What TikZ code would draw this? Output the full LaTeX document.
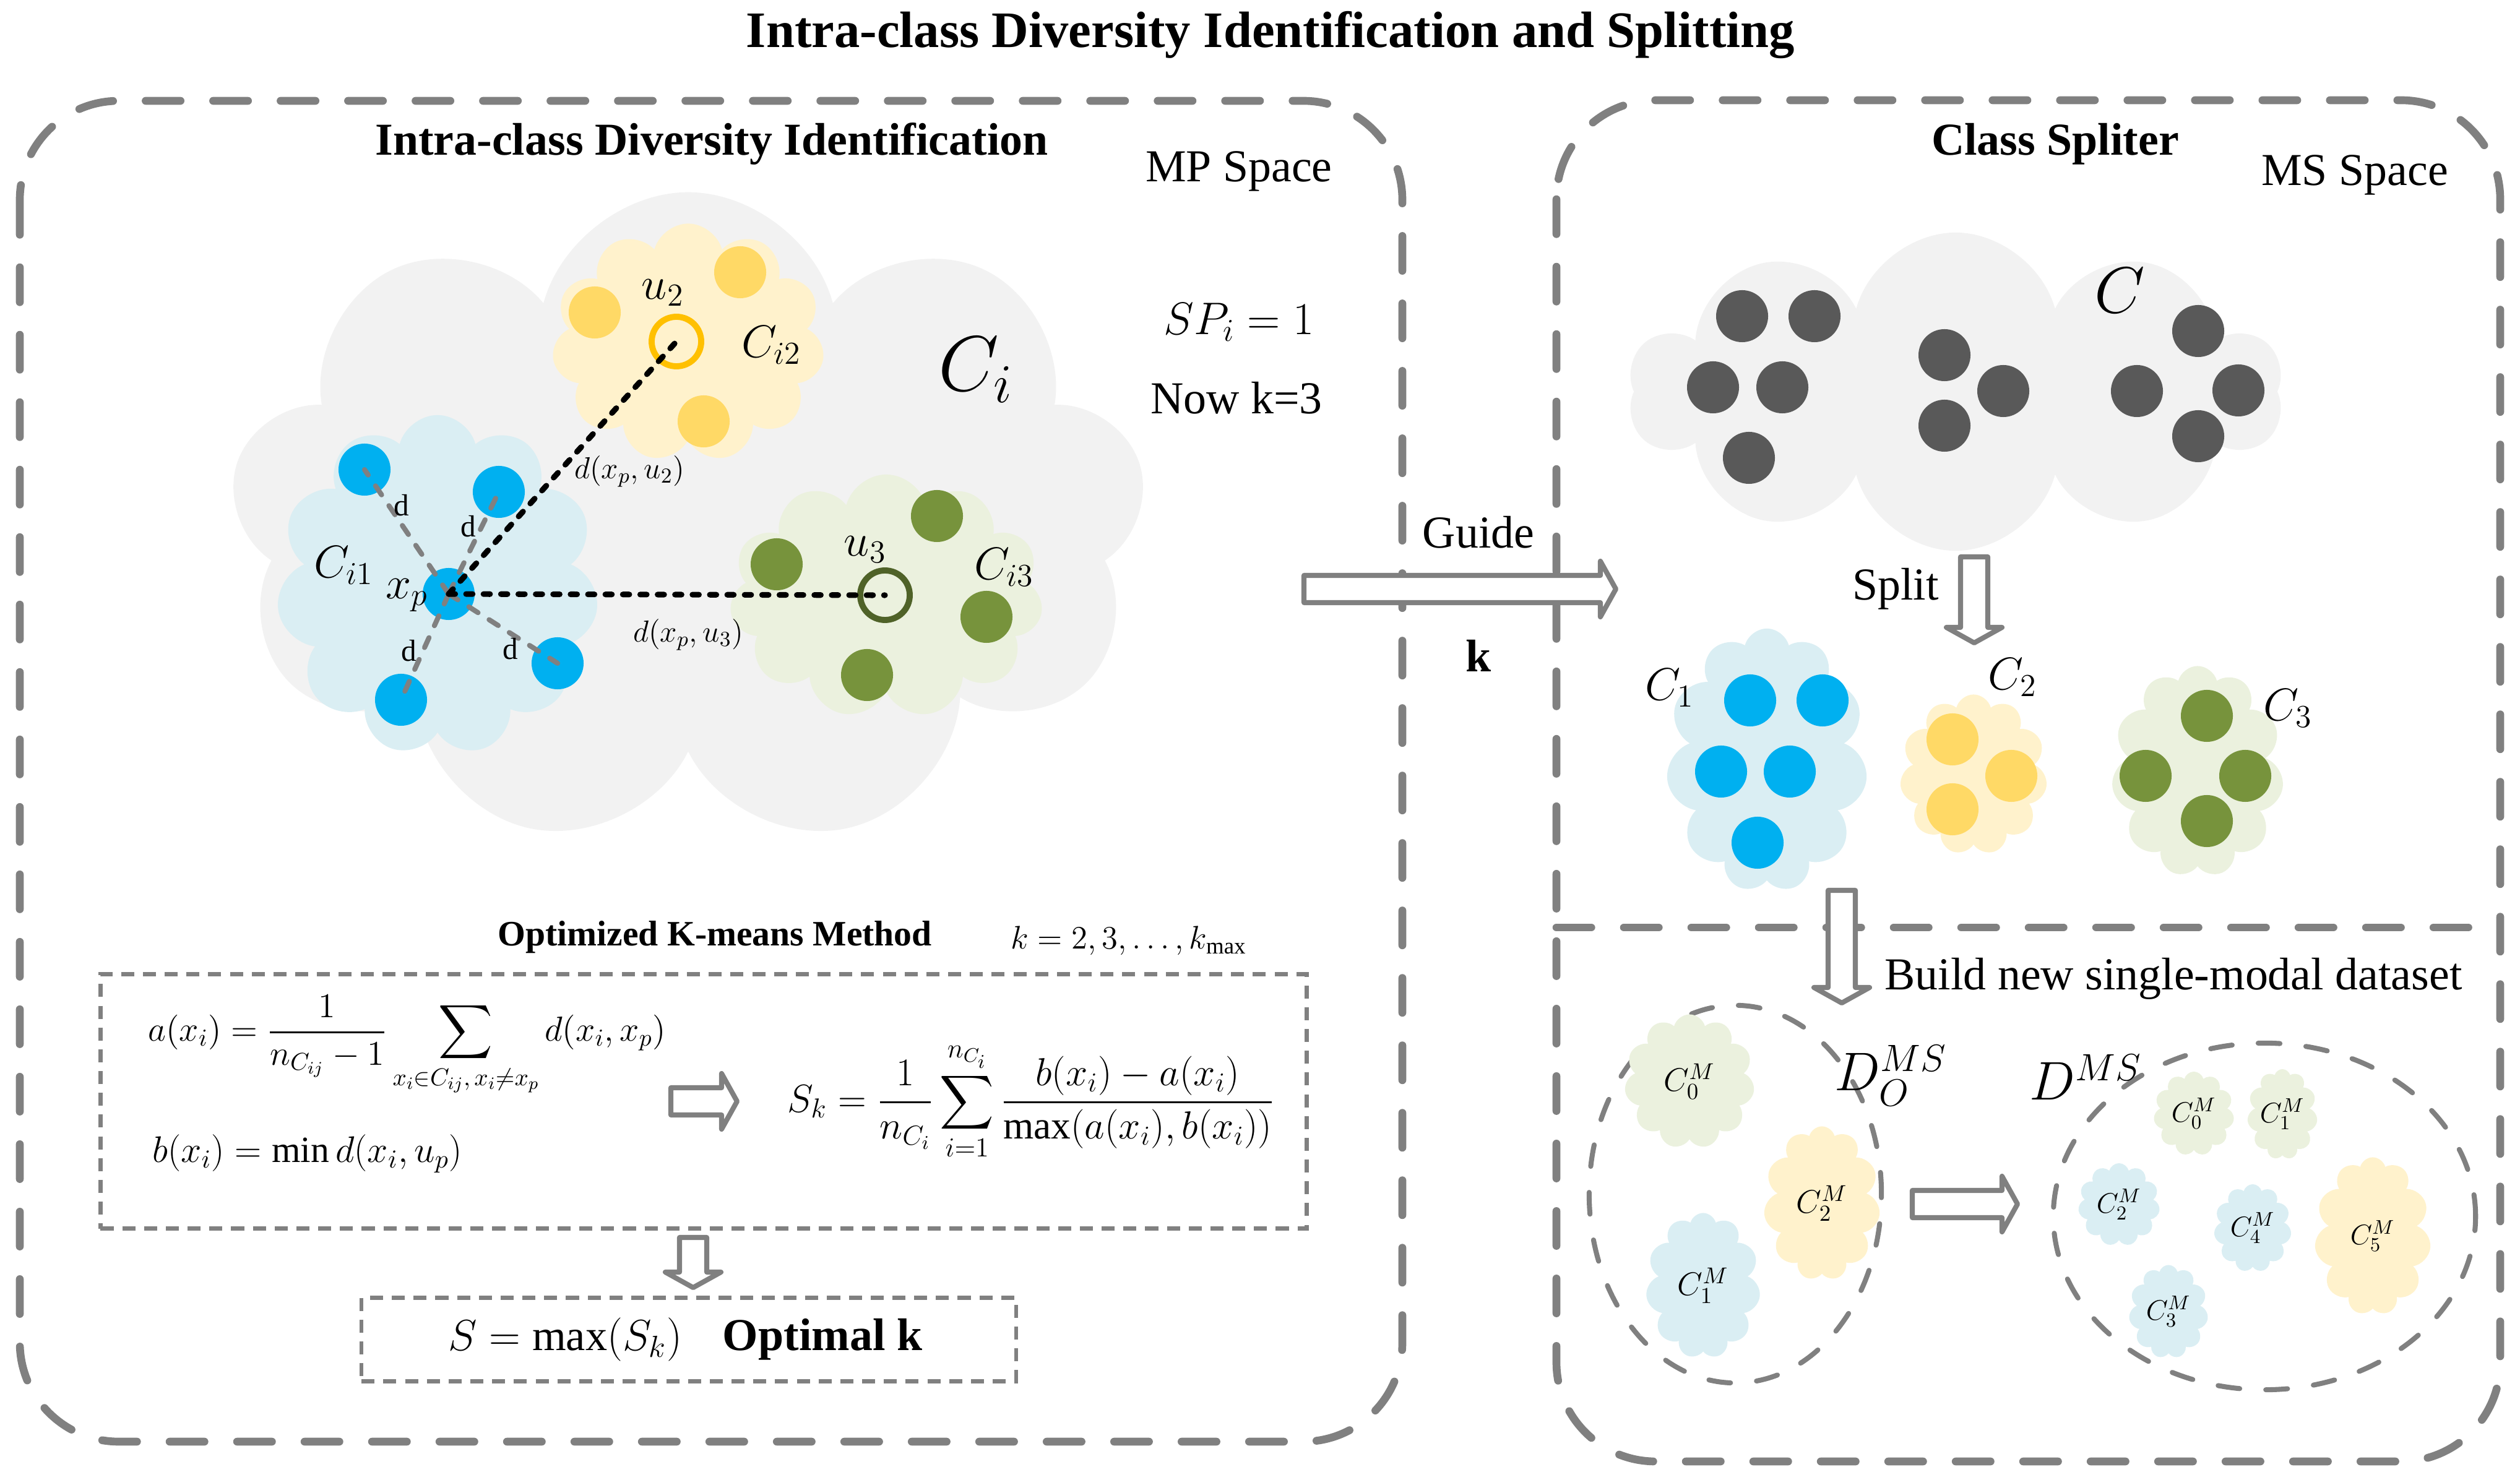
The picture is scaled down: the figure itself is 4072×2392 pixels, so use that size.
\RequirePackage{fix-cm}
\documentclass[tikz,border=0pt]{standalone}
\usepackage{amsmath}
\usepackage{fontspec}
\setmainfont{Liberation Serif}
\usepackage{tikz}
\usetikzlibrary{shapes.symbols,shapes.geometric,positioning}

\definecolor{framegray}{HTML}{808080}
\definecolor{cloudgray}{HTML}{F2F2F2}
\definecolor{paleblue}{HTML}{DAEEF3}
\definecolor{dotblue}{HTML}{00B0F0}
\definecolor{paleyellow}{HTML}{FFF2CC}
\definecolor{dotyellow}{HTML}{FFD966}
\definecolor{ringorange}{HTML}{FFC000}
\definecolor{palegreen}{HTML}{EBF1DE}
\definecolor{dotgreen}{HTML}{77933C}
\definecolor{ringgreen}{HTML}{4F6228}
\definecolor{dotdark}{HTML}{595959}

% hollow block arrows: from x #1 to x #3 at height #2
\newcommand{\rightblock}[3]{%
	\draw[hollow] (#1,#2-22) -- (#3-25,#2-22) -- (#3-25,#2-45) -- (#3,#2)
		-- (#3-25,#2+45) -- (#3-25,#2+22) -- (#1,#2+22) -- cycle;}
% from y #2 down to y #3 at x #1
\newcommand{\downblock}[3]{%
	\draw[hollow] (#1-22,#2) -- (#1-22,#3-25) -- (#1-45,#3-25) -- (#1,#3)
		-- (#1+45,#3-25) -- (#1+22,#3-25) -- (#1+22,#2) -- cycle;}

\begin{document}
\begin{tikzpicture} [x = 0.01cm, y = -0.01cm,
	frame/.style = {draw=framegray, line width=3.6pt, line cap=round,
		dash pattern=on 16pt off 15pt, rounded corners=1.6cm},
	box/.style = {draw=framegray, line width=1.8pt, dash pattern=on 6pt off 4pt},
	oval/.style = {ellipse, draw=framegray, line width=2.3pt, line cap=round,
		dash pattern=on 10pt off 12pt},
	puff/.style = {cloud, cloud puffs=#1, cloud ignores aspect,
		draw=none, inner sep=0pt},
	puff/.default = 11,
	dot/.style = {circle, minimum size=0.84cm, inner sep=0pt},
	ring/.style = {circle, line width=2.8pt, minimum size=0.8cm, inner sep=0pt},
	dist/.style = {draw=framegray, line width=2.3pt, line cap=round,
		dash pattern=on 5pt off 6pt},
	far/.style = {draw=black, line width=2.6pt, line cap=round,
		dash pattern=on 3pt off 5pt},
	hollow/.style = {draw=framegray, line width=2.3pt, line join=round, fill=white},
	txt/.style = {font=\fontsize{21}{25}\selectfont, inner sep=0pt},
	head/.style = {font=\fontsize{21}{25}\selectfont\bfseries, inner sep=0pt},
	small/.style = {font=\fontsize{14}{17}\selectfont, inner sep=0pt}]

	\useasboundingbox (0,0) rectangle (4072,2392);

	\node (title) [font=\fontsize{23.5}{28}\selectfont\bfseries] at (2053,57)
		{Intra-class Diversity Identification and Splitting};

	% frames
	\draw[frame] (32,163) rectangle (2266,2330);
	\draw[frame] (2515,162) rectangle (4040,2362);
	\draw[frame, rounded corners=0pt] (2515,1499) -- (4040,1499);

	%% left panel
	\node (idhead) [head] at (1150,232) {Intra-class Diversity Identification};
	\node (mp) [txt] at (2002,277) {MP Space};

	\node (ci) [puff=9, fill=cloudgray, minimum width=14.8cm, minimum height=10.6cm]
		at (1112,841) {};
	\node (ci1) [puff, fill=paleblue, minimum width=5.2cm, minimum height=5.5cm]
		at (707,946) {};
	\node (ci2) [puff, fill=paleyellow, minimum width=4.4cm, minimum height=3.85cm]
		at (1112,554) {};
	\node (ci3) [puff, fill=palegreen, minimum width=5.06cm, minimum height=3.94cm]
		at (1432,964) {};

	\foreach \n/\x/\y in {1/589/759, 2/806/795, 3/648/1131, 4/901/1072}
		\node (b\n) [dot, fill=dotblue] at (\x,\y) {};
	\node (xp) [dot, fill=dotblue] at (725,960) {};
	\foreach \n/\x/\y in {1/961/505, 2/1196/440, 3/1137/681}
		\node (y\n) [dot, fill=dotyellow] at (\x,\y) {};
	\foreach \n/\x/\y in {1/1255/912, 2/1514/834, 3/1594/997, 4/1401/1091}
		\node (g\n) [dot, fill=dotgreen] at (\x,\y) {};
	\node (u2) [ring, draw=ringorange] at (1093,552) {};
	\node (u3) [ring, draw=ringgreen] at (1430,962) {};

	\foreach \n in {1,...,4}
		\draw[dist] (xp.center) -- (b\n.center);
	\draw[far] (xp.center) -- (u2.center);
	\draw[far] (xp.center) -- (u3.center);

	\node (d1) [small] at (649,817) {d};
	\node (d2) [small] at (757,851) {d};
	\node (d3) [small] at (661,1052) {d};
	\node (d4) [small] at (825,1049) {d};

	\node (lci) [font=\fontsize{36}{42}\selectfont] at (1577,598) {$C_i$};
	\node (lci1) [txt] at (556,914) {$C_{i1}$};
	\node (lxp) [txt] at (658,962) {$x_p$};
	\node (lu2) [txt] at (1071,473) {$u_2$};
	\node (lci2) [txt] at (1247,558) {$C_{i2}$};
	\node (lu3) [txt] at (1398,888) {$u_3$};
	\node (lci3) [txt] at (1623,917) {$C_{i3}$};
	\node (du2) [small] at (1017,762) {$d(x_p,u_2)$};
	\node (du3) [small] at (1112,1026) {$d(x_p,u_3)$};

	\node (sp) [font=\fontsize{21}{25}\selectfont] at (2002,521) {$SP_i=1$};
	\node (nowk) [txt] at (1998,643) {Now k=3};

	% k-means part
	\node (kmeans) [font=\fontsize{16.4}{20}\selectfont\bfseries] at (1155,1515)
		{Optimized K-means Method};
	\node (krange) [font=\fontsize{15}{18}\selectfont] at (1824,1520)
		{$k=2,3,\ldots,k_{\max}$};
	\node (fbox) [box, minimum width=19.48cm, minimum height=4.11cm] at (1137,1780) {};
	\node (aeq) [font=\fontsize{16}{19}\selectfont, anchor=west] at (227,1690)
		{$\displaystyle a(x_i)=\frac{1}{n_{C_{ij}}-1}\sum_{x_i\in C_{ij},\,x_i\neq x_p} d(x_i,x_p)$};
	\node (beq) [font=\fontsize{17}{20}\selectfont, anchor=west] at (234,1865)
		{$b(x_i)=\min d(x_i,u_p)$};
	\node (skeq) [font=\fontsize{18}{21}\selectfont] at (1666,1780)
		{$\displaystyle S_k=\frac{1}{n_{C_i}}\sum_{i=1}^{n_{C_i}}\frac{b(x_i)-a(x_i)}{\max(a(x_i),b(x_i))}$};
	\rightblock{1084}{1780}{1191}
	\downblock{1120}{2000}{2081}
	\node (rbox) [box, minimum width=10.57cm, minimum height=1.35cm] at (1113,2165) {};
	\node (seq) [font=\fontsize{20}{24}\selectfont] at (913,2165) {$S=\max(S_k)$};
	\node (optk) [head] at (1329,2165) {Optimal k};

	%% guide arrow
	\rightblock{2107}{952}{2611}
	\node (guide) [txt] at (2389,860) {Guide};
	\node (kk) [head] at (2389,1060) {k};

	%% right panel
	\node (cshead) [head] at (3321,233) {Class Spliter};
	\node (ms) [txt] at (3805,283) {MS Space};
	\node (c) [puff=10, fill=cloudgray, minimum width=10.55cm, minimum height=5.14cm]
		at (3160,633) {};
	\foreach \n/\x/\y in {1/2815/511, 2/2932/511, 3/2768/626, 4/2880/626, 5/2826/740,
		6/3142/574, 7/3237/632, 8/3142/688, 9/3552/535, 10/3453/632, 11/3617/631, 12/3552/705}
		\node (k\n) [dot, fill=dotdark] at (\x,\y) {};
	\node (lc) [font=\fontsize{30}{34}\selectfont] at (3425,469) {$C$};

	\downblock{3190}{900}{1039}
	\node (split) [txt] at (3063,952) {Split};

	\node (c1) [puff, fill=paleblue, minimum width=3.25cm, minimum height=4.26cm]
		at (2855,1229) {};
	\node (c2) [puff, fill=paleyellow, minimum width=2.38cm, minimum height=2.59cm]
		at (3189,1252) {};
	\node (c3) [puff, fill=palegreen, minimum width=2.78cm, minimum height=3.41cm]
		at (3551,1247) {};
	\foreach \n/\x/\y in {1/2828/1132, 2/2945/1132, 3/2781/1247, 4/2892/1247, 5/2840/1362}
		\node (s\n) [dot, fill=dotblue] at (\x,\y) {};
	\foreach \n/\x/\y in {1/3155/1195, 2/3250/1254, 3/3155/1308}
		\node (t\n) [dot, fill=dotyellow] at (\x,\y) {};
	\foreach \n/\x/\y in {1/3566/1157, 2/3467/1254, 3/3628/1254, 4/3566/1327}
		\node (v\n) [dot, fill=dotgreen] at (\x,\y) {};
	\node (lc1) [txt] at (2698,1112) {$C_1$};
	\node (lc2) [txt] at (3252,1095) {$C_2$};
	\node (lc3) [txt] at (3697,1145) {$C_3$};

	\downblock{2976}{1439}{1621}
	\node (build) [txt] at (3512,1582) {Build new single-modal dataset};

	% datasets
	\node (dO) [oval, minimum width=4.72cm, minimum height=6.1cm] at (2804,1930) {};
	\node (m0) [puff, fill=palegreen, minimum width=2.1cm, minimum height=2.17cm,
		font=\fontsize{15}{18}\selectfont] at (2730,1748) {$C_0^M$};
	\node (m2) [puff, fill=paleyellow, minimum width=1.88cm, minimum height=2.49cm,
		font=\fontsize{15}{18}\selectfont] at (2944,1945) {$C_2^M$};
	\node (m1) [puff, fill=paleblue, minimum width=1.85cm, minimum height=2.35cm,
		font=\fontsize{15}{18}\selectfont] at (2752,2078) {$C_1^M$};
	\node (ldO) [font=\fontsize{25}{29}\selectfont] at (3055,1738) {$D_O^{MS}$};

	\rightblock{3090}{1946}{3260}

	\node (dn) [oval, minimum width=6.82cm, minimum height=5.6cm] at (3659,1966) {};
	\node (ldn) [font=\fontsize{25}{29}\selectfont] at (3370,1741) {$D^{MS}$};
	\node (n0) [puff, fill=palegreen, minimum width=1.3cm, minimum height=1.36cm,
		font=\fontsize{13}{16}\selectfont] at (3545,1800) {$C_0^M$};
	\node (n1) [puff, fill=palegreen, minimum width=1.05cm, minimum height=1.46cm,
		font=\fontsize{13}{16}\selectfont] at (3688,1801) {$C_1^M$};
	\node (n2) [puff, fill=paleblue, minimum width=1.32cm, minimum height=1.34cm,
		font=\fontsize{13}{16}\selectfont] at (3424,1947) {$C_2^M$};
	\node (n4) [puff, fill=paleblue, minimum width=1.25cm, minimum height=1.42cm,
		font=\fontsize{13}{16}\selectfont] at (3640,1985) {$C_4^M$};
	\node (n5) [puff, fill=paleyellow, minimum width=1.88cm, minimum height=2.55cm,
		font=\fontsize{13}{16}\selectfont] at (3834,1998) {$C_5^M$};
	\node (n3) [puff, fill=paleblue, minimum width=1.28cm, minimum height=1.51cm,
		font=\fontsize{13}{16}\selectfont] at (3504,2120) {$C_3^M$};

\end{tikzpicture}
\end{document}
